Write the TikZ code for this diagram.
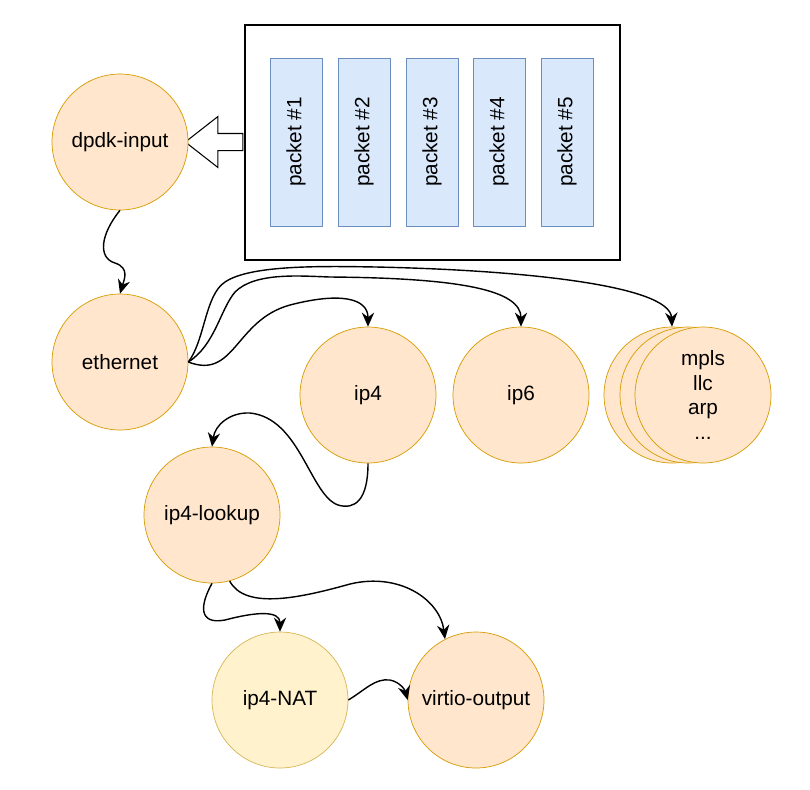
\documentclass[tikz,border=0pt]{standalone}
\usepackage{fontspec}
\setmainfont{Liberation Sans}
\usetikzlibrary{arrows.meta,shapes.arrows}
\definecolor{nodefill}{HTML}{FFE6CC}
\definecolor{nodeline}{HTML}{D79B00}
\definecolor{natfill}{HTML}{FFF2CC}
\definecolor{natline}{HTML}{D6B656}
\definecolor{pktfill}{HTML}{DAE8FC}
\definecolor{pktline}{HTML}{6C8EBF}
\begin{document}
\begin{tikzpicture}[x=0.02cm, y=-0.02cm,
  font=\fontsize{11.8}{14}\selectfont,
  vnode/.style={draw=nodeline, fill=nodefill, circle, minimum size=2.72cm, inner sep=0pt, align=center},
  pkt/.style={draw=pktline, fill=pktfill, minimum width=1.04cm, minimum height=3.36cm, inner sep=0pt},
  edge/.style={draw, line width=0.8pt, -{Stealth[length=8pt,width=7pt]}}]
\useasboundingbox (0,0) rectangle (810,789);

% packet buffer
\node[draw, line width=0.8pt, minimum width=7.5cm, minimum height=4.7cm] (buf) at (432.5,142.5) {};
\foreach \i/\x in {1/296,2/364,3/432,4/499,5/567}
  \node[pkt] (p\i) at (\x,142) {\rotatebox{90}{packet \#\i}};
\node[draw, fill=white, line width=0.6pt, single arrow, shape border rotate=180,
  minimum height=1.15cm, minimum width=1.0cm, inner sep=0.16cm,
  single arrow head extend=0.34cm, single arrow tip angle=76] (inarrow) at (219.5,142) {};

% graph nodes
\node[vnode] (dpdk) at (120,142) {dpdk-input};
\node[vnode] (eth) at (120,362) {ethernet};
\node[vnode] (ip4) at (368,395) {ip4};
\node[vnode] (ip6) at (521,395) {ip6};
\node[vnode] (otherc) at (672,395) {};
\node[vnode] (otherb) at (688,395) {};
\node[vnode] (other) at (703,395) {mpls\\llc\\arp\\...};
\node[vnode] (lookup) at (212,515) {ip4-lookup};
\node[vnode, draw=natline, fill=natfill] (nat) at (280,700) {ip4-NAT};
\node[vnode] (vout) at (476,700) {virtio-output};

% edges
\path[edge] (dpdk.south) .. controls (100,235) and (98,258) .. (115,263) .. controls (130,268) and (124,280) .. (eth.north);
\path[edge] (eth.east) .. controls (235,380) and (235,320) .. (290,305) .. controls (340,292) and (368,298) .. (ip4.north);
\path[edge] (eth.east) .. controls (215,345) and (220,310) .. (235,292) .. controls (255,272) and (300,276) .. (330,277) .. controls (460,278) and (521,290) .. (ip6.north);
\path[edge] (eth.east) .. controls (205,340) and (205,295) .. (225,282) .. controls (250,265) and (320,266) .. (376,267) .. controls (520,270) and (670,285) .. (otherc.north);
\path[edge] (ip4.south) .. controls (368,500) and (355,510) .. (338,505) .. controls (310,495) and (300,418) .. (250,413) .. controls (230,412) and (215,425) .. (lookup.north);
\path[edge] (lookup.south) .. controls (200,605) and (198,625) .. (225,620) .. controls (255,612) and (280,610) .. (nat.north);
\path[edge] (lookup.-75) .. controls (245,610) and (300,598) .. (350,584) .. controls (400,572) and (440,600) .. (vout.117);
\path[edge] (nat.east) .. controls (365,690) and (375,678) .. (390,680) .. controls (400,682) and (405,690) .. (vout.west);
\end{tikzpicture}
\end{document}
